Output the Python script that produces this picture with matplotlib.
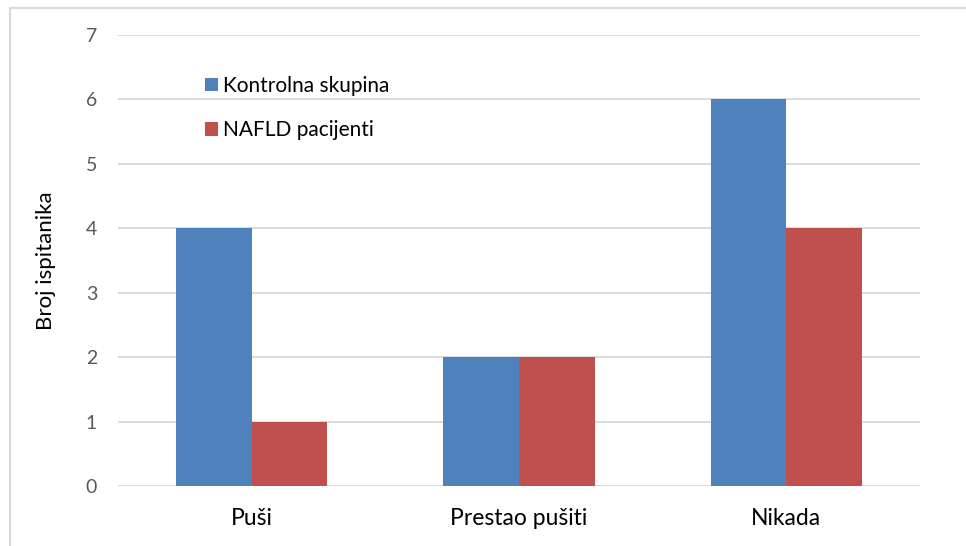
import matplotlib
matplotlib.use("Agg")
import matplotlib.pyplot as plt
import numpy as np
from matplotlib.lines import Line2D

categories = ["Puši", "Prestao pušiti", "Nikada"]
kontrolna = [4, 2, 6]
nafld = [1, 2, 4]
series_names = ["Kontrolna skupina", "NAFLD pacijenti"]
yticks = [0, 1, 2, 3, 4, 5, 6, 7]

plt.rcParams['font.family'] = ['Lato', 'DejaVu Sans']

fig = plt.figure(figsize=(9.66, 5.46), dpi=100)
ax = fig.add_axes([118/966, 1-486/546, (920-118)/966, (486-35)/546])

x = np.arange(len(categories))
w = 0.283
ax.bar(x - w/2, kontrolna, w, color="#4f81bd", label=series_names[0], zorder=3)
ax.bar(x + w/2, nafld, w, color="#c0504d", label=series_names[1], zorder=3)

ax.set_xlim(-0.5, 2.5)
ax.set_ylim(0, 7)
ax.set_yticks(yticks)
ax.set_yticklabels([str(t) for t in yticks])
ax.set_xticks(x)
ax.set_xticklabels(categories)
ax.grid(axis='y', color="#d9d9d9", linewidth=1.3, zorder=0)
for s in ax.spines.values():
    s.set_visible(False)
ax.tick_params(axis='y', length=0, pad=15, labelsize=14, labelcolor="#595959")
ax.tick_params(axis='x', length=0, pad=16, labelsize=16.5, labelcolor="#000000")

ax.set_ylabel("Broj ispitanika", fontsize=16, color="#000000")
ax.yaxis.set_label_coords((56-118)/802, 0.5)

leg = ax.legend(loc='upper left', bbox_to_anchor=((205-118)/802, (486-76)/451),
                frameon=False, fontsize=15, handlelength=0.63, handleheight=0.63,
                handletextpad=0.25, labelspacing=1.17, borderpad=0, borderaxespad=0)

# outer chart border
col = "#d9d9d9"
fig.add_artist(Line2D([9.5/966, 1], [1-7.5/546, 1-7.5/546], color=col, linewidth=1.5, transform=fig.transFigure))
fig.add_artist(Line2D([9.5/966, 9.5/966], [0, 1-7.5/546], color=col, linewidth=1.5, transform=fig.transFigure))

fig.savefig("out.png", dpi=100)
